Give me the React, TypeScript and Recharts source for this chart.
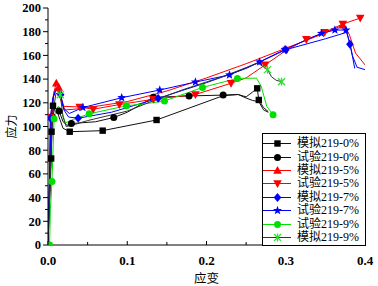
import React from 'react';
import { LineChart, Line, XAxis, YAxis } from 'recharts';

// [strain, stress, 1 = drawn with a marker]
const sim0 = [
  [0, 0], [0.004, 73, 1], [0.0045, 95.6, 1], [0.0063, 117.5, 1], [0.011, 114], [0.015, 106], [0.019, 98.5],
  [0.0274, 95.6, 1], [0.069, 96.5, 1], [0.137, 105.5, 1], [0.221, 126], [0.24, 127], [0.25, 125], [0.258, 129],
  [0.264, 132.2, 1], [0.266, 122.4, 1], [0.272, 116], [0.278, 112.5],
];
const exp0 = [
  [0, 0], [0.003, 60], [0.0055, 108, 1], [0.009, 116], [0.014, 113, 1], [0.019, 104], [0.024, 101],
  [0.0295, 102.5, 1], [0.06, 104], [0.083, 107.6, 1], [0.1, 112], [0.133, 124.6, 1], [0.178, 125.8, 1],
  [0.221, 126.5, 1], [0.24, 127], [0.25, 124], [0.258, 122], [0.266, 121], [0.272, 114], [0.278, 112],
];
const sim5 = [
  [0, 0], [0.002, 55], [0.004, 100], [0.007, 128], [0.0105, 136.6, 1], [0.0135, 133, 1], [0.017, 120],
  [0.022, 114], [0.04, 115], [0.1, 121], [0.15, 130], [0.2, 141], [0.25, 153], [0.3, 166], [0.35, 179],
  [0.372, 185.5, 1], [0.38, 178], [0.388, 162], [0.4, 152],
];
const exp5 = [
  [0, 0], [0.002, 50], [0.003, 108, 1], [0.007, 125], [0.011, 133], [0.015, 128], [0.02, 117],
  [0.04, 116.5, 1], [0.057, 114.6, 1], [0.09, 118.5, 1], [0.133, 123, 1], [0.186, 127, 1], [0.231, 136.5, 1],
  [0.25, 141], [0.274, 152, 1], [0.301, 164.5, 1], [0.326, 173.5, 1], [0.349, 179.5, 1], [0.372, 186.5, 1],
  [0.394, 191.5, 1],
];
const sim7 = [
  [0, 0], [0.002, 60], [0.003, 107, 1], [0.006, 124], [0.01, 131], [0.016, 126.8, 1], [0.02, 114],
  [0.026, 108], [0.038, 107, 1], [0.08, 112], [0.139, 123.8, 1], [0.2, 137], [0.25, 149], [0.3, 164.8, 1],
  [0.35, 174], [0.377, 179.5], [0.381, 169.4, 1], [0.384, 160], [0.39, 150], [0.4, 148],
];
const exp7 = [
  [0, 0], [0.002, 60], [0.004, 108], [0.007, 126], [0.01, 132], [0.015, 127], [0.02, 115], [0.027, 111],
  [0.044, 116, 1], [0.093, 124.3, 1], [0.141, 130.8, 1], [0.186, 137.5, 1], [0.229, 143.5, 1],
  [0.267, 154.5, 1], [0.299, 165, 1], [0.345, 178.6, 1], [0.362, 181.4, 1], [0.376, 181.4, 1],
  [0.381, 170], [0.384, 160], [0.387, 149],
];
const exp9 = [
  [0.002, 0, 1], [0.003, 30], [0.005, 53.5, 1], [0.0076, 106.5, 1], [0.01, 114], [0.013, 117], [0.017, 113],
  [0.022, 103], [0.032, 106], [0.052, 110.7, 1], [0.099, 117.5, 1], [0.12, 119], [0.147, 121.5, 1],
  [0.195, 133, 1], [0.239, 140.6, 1], [0.263, 140.8], [0.269, 134], [0.276, 117], [0.284, 110, 1],
];
const sim9 = [
  [0, 0], [0.003, 60], [0.006, 110], [0.01, 128], [0.0155, 126.8, 1], [0.019, 108], [0.023, 100],
  [0.03, 101], [0.05, 105], [0.1, 113], [0.13, 121], [0.17, 131], [0.22, 142], [0.265, 153.5],
  [0.277, 148, 1], [0.282, 142], [0.288, 139], [0.2947, 137.8, 1],
];

const seriesNames = ['模拟219-0%', '试验219-0%', '模拟219-5%', '试验219-5%', '模拟219-7%', '试验219-7%', '试验219-9%', '模拟219-9%'];
const seriesData = [sim0, exp0, sim5, exp5, sim7, exp7, exp9, sim9];
const xTicks = [0, 0.05, 0.1, 0.15, 0.2, 0.25, 0.3, 0.35, 0.4];
const yTicks = [0, 10, 20, 30, 40, 50, 60, 70, 80, 90, 100, 110, 120, 130, 140, 150, 160, 170, 180, 190, 200];

const looks = [
  { line: '#111', mark: '#000', shape: 'square' },
  { line: '#111', mark: '#000', shape: 'circle' },
  { line: '#ff0000', mark: '#ff0000', shape: 'up' },
  { line: '#ff0000', mark: '#ff0000', shape: 'down' },
  { line: '#0000ff', mark: '#0000ff', shape: 'diamond' },
  { line: '#0000ff', mark: '#0000ff', shape: 'star' },
  { line: '#00e000', mark: '#00e000', shape: 'circle' },
  { line: '#333', mark: '#33dd33', shape: 'asterisk' },
];

const serif = '"Liberation Serif", "Times New Roman", serif';
const cjk = '"Liberation Serif", "Noto Sans CJK SC", sans-serif';

const toPoints = (rows: number[][]) => rows.map(([x, y, m]) => ({ x, y, m: m === 1 }));

function marker(shape: string, x: number, y: number, c: string) {
  switch (shape) {
    case 'square':
      return <rect x={x - 3.2} y={y - 3.2} width={6.4} height={6.4} fill={c} />;
    case 'circle':
      return <circle cx={x} cy={y} r={3.5} fill={c} />;
    case 'up':
      return <polygon points={`${x},${y - 4.5} ${x + 4.3},${y + 3.3} ${x - 4.3},${y + 3.3}`} fill={c} />;
    case 'down':
      return <polygon points={`${x},${y + 4.5} ${x + 4.3},${y - 3.3} ${x - 4.3},${y - 3.3}`} fill={c} />;
    case 'diamond':
      return <polygon points={`${x},${y - 4.4} ${x + 3.8},${y} ${x},${y + 4.4} ${x - 3.8},${y}`} fill={c} />;
    case 'star': {
      const pts: string[] = [];
      for (let i = 0; i < 10; i++) {
        const r = i % 2 === 0 ? 4.7 : 2;
        const a = -Math.PI / 2 + (i * Math.PI) / 5;
        pts.push(`${x + r * Math.cos(a)},${y + r * Math.sin(a)}`);
      }
      return <polygon points={pts.join(' ')} fill={c} />;
    }
    default:
      return (
        <g stroke={c} strokeWidth={1.3}>
          <line x1={x - 3.5} y1={y - 3.5} x2={x + 3.5} y2={y + 3.5} />
          <line x1={x - 3.5} y1={y + 3.5} x2={x + 3.5} y2={y - 3.5} />
          <line x1={x} y1={y - 4} x2={x} y2={y + 4} />
        </g>
      );
  }
}

const makeDot = (shape: string, color: string) => (props: any) => {
  const { cx, cy, payload, index } = props;
  if (!payload || !payload.m || cx == null || cy == null) return <g key={index} />;
  return <g key={index}>{marker(shape, cx, cy, color)}</g>;
};

const YTick = (props: any) => {
  const { x, y, payload } = props;
  const major = payload.value % 20 === 0;
  return (
    <g>
      <line x1={x - (major ? 5 : 3)} x2={x} y1={y} y2={y} stroke="#000" />
      {major && (
        <text x={x - 7} y={y} dy={4.3} textAnchor="end" fontFamily={serif} fontWeight="bold" fontSize={12.5} fill="#000">
          {payload.value}
        </text>
      )}
    </g>
  );
};

const XTick = (props: any) => {
  const { x, y, payload } = props;
  const v = payload.value;
  const major = Math.abs(v * 10 - Math.round(v * 10)) < 1e-6;
  return (
    <g>
      <line x1={x} x2={x} y1={y} y2={y - (major ? 4 : 3)} stroke="#000" />
      {major && (
        <text x={x} y={y + 20} textAnchor="middle" fontFamily={serif} fontWeight="bold" fontSize={13} fill="#000">
          {v.toFixed(1)}
        </text>
      )}
    </g>
  );
};

const LegendBox = () => (
  <div
    style={{
      position: 'absolute', left: 262, top: 133, width: 104, height: 113, boxSizing: 'border-box',
      border: '1px solid #000', background: '#fff', paddingTop: 3,
    }}
  >
    {seriesNames.map((name, i) => (
      <div key={name} style={{ display: 'flex', alignItems: 'center', height: 13.4 }}>
        <svg width={34} height={13} style={{ display: 'block' }}>
          <line x1={0} x2={28} y1={6.5} y2={6.5} stroke={looks[i].line} strokeWidth={1} />
          {marker(looks[i].shape, 14.5, 6.5, looks[i].mark)}
        </svg>
        <span style={{ fontFamily: cjk, fontSize: 12, lineHeight: '13px', color: '#000', whiteSpace: 'nowrap' }}>{name}</span>
      </div>
    ))}
  </div>
);

export default function App() {
  return (
    <div style={{ position: 'absolute', left: 0, top: 0, width: 378, height: 286, background: '#fff' }}>
      <LineChart width={378} height={286} margin={{ top: 8, right: 13, bottom: 0, left: 0 }}>
        <XAxis
          type="number"
          dataKey="x"
          domain={[0, 0.4]}
          ticks={xTicks}
          interval={0}
          tick={<XTick />}
          tickLine={false}
          tickSize={0}
          tickMargin={0}
          height={41}
          axisLine={{ stroke: '#000' }}
          allowDataOverflow
          label={{ value: '应变', position: 'insideBottom', offset: 3, style: { fontFamily: '"Noto Sans CJK SC"', fontSize: 12.5, fill: '#000' } }}
        />
        <YAxis
          type="number"
          dataKey="y"
          domain={[0, 200]}
          ticks={yTicks}
          interval={0}
          tick={<YTick />}
          tickLine={false}
          tickSize={0}
          tickMargin={0}
          width={48}
          axisLine={{ stroke: '#000' }}
          allowDataOverflow
          label={{ value: '应力', angle: -90, position: 'insideLeft', offset: 12, style: { textAnchor: 'middle', fontFamily: '"Noto Sans CJK SC"', fontSize: 12, fill: '#000' } }}
        />
        {seriesData.map((rows, i) => (
          <Line
            key={seriesNames[i]}
            name={seriesNames[i]}
            data={toPoints(rows)}
            dataKey="y"
            type="linear"
            stroke={looks[i].line}
            strokeWidth={1}
            dot={makeDot(looks[i].shape, looks[i].mark)}
            activeDot={false}
            isAnimationActive={false}
          />
        ))}
      </LineChart>
      <LegendBox />
    </div>
  );
}
